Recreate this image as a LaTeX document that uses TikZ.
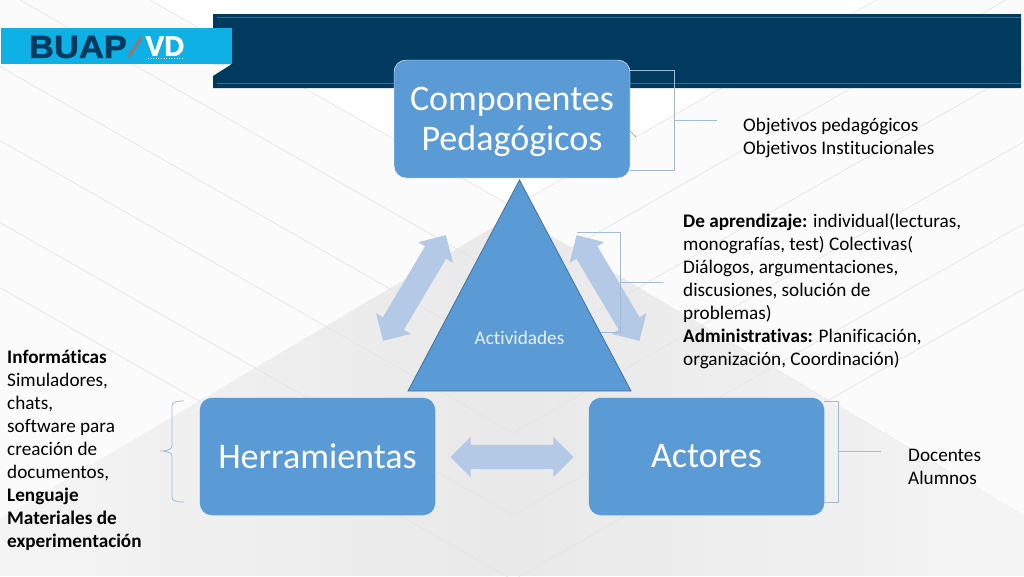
\documentclass[tikz,border=0pt]{standalone}
\usepackage{fontspec}
\usepackage{xcolor}
\setmainfont{Carlito}[Ligatures=NoCommon]
\newfontfamily\logofont{Liberation Sans}[FakeBold=1.5]
\usetikzlibrary{shapes.arrows}
\definecolor{header dark}{HTML}{003B5F}
\definecolor{ribbon blue}{HTML}{0DB1E6}
\definecolor{box blue}{HTML}{5B9BD5}
\definecolor{tri edge}{HTML}{41719C}
\definecolor{arrow blue}{HTML}{B4C9E6}
\definecolor{bracket blue}{HTML}{A3BAD6}
\definecolor{back pale}{HTML}{FBFBFB}
\definecolor{back edge}{HTML}{F4F4F4}
\definecolor{back grey}{HTML}{E9E9E9}
\definecolor{back line}{HTML}{E3E3E3}
\def\bracketTop{(630,70) -- (674,70) -- (674,170) -- (630,170)}
\def\bracketMid{(577,232) -- (620,232) -- (620,332) -- (590,332)}
\def\bracketAct{(824,401) -- (838,401) -- (838,502) -- (824,502)}
\tikzset{main box/.style={draw=white, fill=box blue, rounded corners=12pt, minimum width=236pt,
        minimum height=118pt, inner sep=0pt, align=center, text=white,
        font=\fontsize{36}{40}\selectfont},
    both arrow/.style={double arrow, fill=arrow blue, draw=none, minimum height=123pt,
        double arrow head extend=8pt, double arrow tip angle=90, inner xsep=0pt, inner ysep=12pt},
    bracket/.style={draw=bracket blue, line width=0.8pt},
    note/.style={inner sep=0pt, anchor=north west, align=left, font=\fontsize{19.2}{23}\selectfont},
    backline/.style={draw=back line, line width=0.6pt}}

\begin{document}
\begin{tikzpicture}[x=1pt,y=-1pt]
    \useasboundingbox (0,0) rectangle (1024,576);
    % background
    \fill[back pale] (0,0) rectangle (1024,576);
    \fill[white] (150,0) -- (513,207) -- (876,0) -- cycle;
    \begin{scope}
        \clip (0,519) -- (515,215) -- (1024,516) -- (1024,576) -- (0,576) -- cycle;
        \foreach \s in {0,...,31} {
            \pgfmathsetmacro{\mix}{100-abs(\s-15.5)*100/15.5}
            \fill[back grey!\mix!back edge] (\s*32,200) rectangle (1024,576);
        }
    \end{scope}
    \begin{scope}
        \clip (0,0) rectangle (1024,576);
        \foreach \yv in {207,281,359,433,515,580}
            \draw[backline] (513,\yv) -- ++(-600,-342) (513,\yv) -- ++(600,-342);
    \end{scope}
    % header
    \fill[header dark] (213,14) -- (1021,14) -- (1021,88) -- (213,88) -- (213,76) -- (232,64) -- (213,64) -- cycle;
    \draw[white!25!header dark, line width=0.5pt] (217,17) -- (1021,17) (217,83) -- (1021,83);
    \fill[ribbon blue] (1,28) rectangle (232,64);
    \node[inner sep=0pt, text=header dark] (buap) at (78,47)
        {\scalebox{1.08}[1]{\logofont\bfseries\fontsize{32}{32}\selectfont BUAP}};
    \draw[gray, line width=3.5pt] (128,57) -- (142,37);
    \node[inner sep=0pt, text=white] (vd) at (165,46)
        {\logofont\bfseries\fontsize{28}{28}\selectfont VD};
    \draw[white, line width=0.6pt, dotted] (148,58) -- (183,58);
    % brackets and arrows under the boxes
    \draw[bracket] \bracketTop;
    \coordinate (top joint) at (674,120);
    \coordinate (top stem) at (717,120);
    \draw[bracket] (top joint) -- (top stem);
    \draw[tri edge!70!white, line width=0.6pt] (625,126) -- (636,137);
    \node[both arrow, rotate=59.3] (arrow left) at (414.5,288) {};
    \node[both arrow, rotate=-59.3] (arrow right) at (608,288) {};
    \node[both arrow] (arrow bottom) at (512,457) {};
    \draw[bracket] \bracketMid;
    \coordinate (mid joint) at (620,282);
    \coordinate (mid stem) at (663,282);
    \draw[bracket] (mid joint) -- (mid stem);
    \draw[bracket] \bracketAct;
    \coordinate (act joint) at (838,451);
    \coordinate (act stem) at (881,451);
    \draw[bracket] (act joint) -- (act stem);
    \coordinate (her stem) at (160,451);
    \draw[bracket] (184,401) .. controls (176,401) and (172,402) .. (172,406) -- (172,446)
        .. controls (172,449) and (168,451) .. (her stem)
        .. controls (168,451) and (172,453) .. (172,456) -- (172,497)
        .. controls (172,501) and (176,502) .. (184,502);
    % boxes
    \node[main box] (componentes) at (512,119) {\rule{0pt}{30pt}Componentes\\Pedagógicos};
    \node[main box] (herramientas) at (317.5,456.5) {Herramientas};
    \node[main box] (actores) at (706.5,456.5) {Actores};
    % triangle
    \draw[tri edge, fill=box blue, line width=0.8pt] (519.5,180) -- (631,391) -- (408,391) -- cycle;
    \node[inner sep=0pt, text=white!85!box blue, font=\fontsize{19.2}{23}\selectfont] (actividades) at (519.5,338) {Actividades};
    % notes
    \node[note] (objetivos) at (743,118) {Objetivos pedagógicos\\Objetivos Institucionales};
    \node[note] (aprendizaje) at (683,213) {\textbf{De aprendizaje:} individual(lecturas,\\monografías, test) Colectivas(\\Diálogos, argumentaciones,\\discusiones, solución de\\problemas)\\\textbf{Administrativas:} Planificación,\\organización, Coordinación)};
    \node[note] (docentes) at (908,449) {Docentes\\Alumnos};
    \node[note] (informaticas) at (7,350) {\textbf{Informáticas}\\Simuladores,\\chats,\\software para\\creación de\\documentos,\\\textbf{Lenguaje}\\\textbf{Materiales de}\\\textbf{experimentación}};
\end{tikzpicture}
\end{document}
